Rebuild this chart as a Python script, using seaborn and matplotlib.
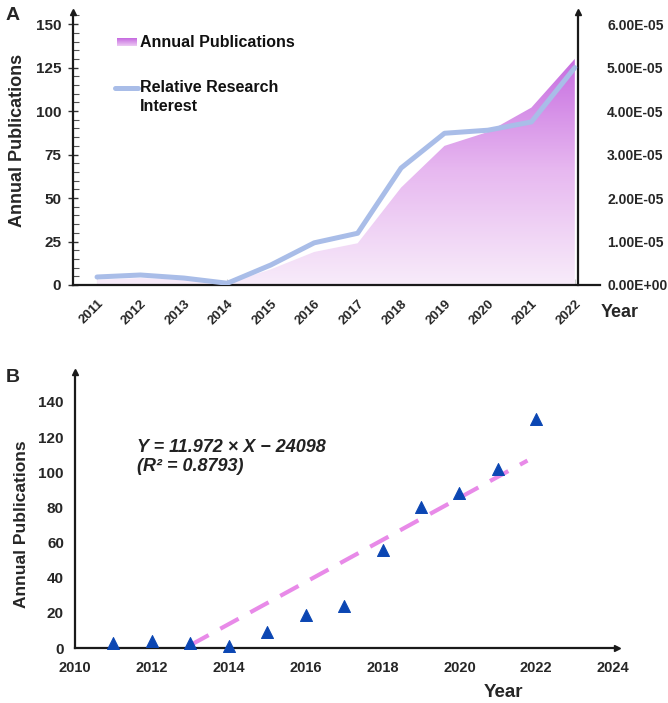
import numpy as np
import pandas as pd
import matplotlib
matplotlib.use("Agg")
import matplotlib.pyplot as plt
import seaborn as sns
from matplotlib.colors import LinearSegmentedColormap
from matplotlib.patches import PathPatch
from matplotlib.ticker import MultipleLocator, FuncFormatter
import matplotlib.transforms as mtrans

# datos
anios = [2011, 2012, 2013, 2014, 2015, 2016, 2017, 2018, 2019, 2020, 2021, 2022]
publicaciones = [3, 4, 3, 1, 9, 19, 24, 56, 80, 88, 102, 130]
interes = [0.184e-5, 0.23e-5, 0.16e-5, 0.04e-5, 0.46e-5, 0.97e-5, 1.19e-5,
           2.69e-5, 3.49e-5, 3.56e-5, 3.75e-5, 5.0e-5]
pendiente = 11.972
intercepto = -24098
recta_x = [2013, 2021.77]

sns.set_style("white")
plt.rcParams['font.family'] = ['Liberation Sans', 'DejaVu Sans']
plt.rcParams['font.weight'] = 'bold'

fig = plt.figure(figsize=(6.68, 7.03), dpi=100)

# ---------------- panel A ----------------
axA = fig.add_axes([0.1093, 0.5946, 0.7889, 0.3884])
xmin, xmax = 2010.447, 2022.58
ymaxA = 157

df = pd.DataFrame({'Year': anios, 'Pub': publicaciones, 'RRI': interes})

poly = axA.fill_between(df['Year'], df['Pub'], color='none', lw=0)
ruta = poly.get_paths()[0]
recorte = PathPatch(ruta, transform=axA.transData, facecolor='none', edgecolor='none')
axA.add_patch(recorte)
cmap = LinearSegmentedColormap.from_list('grad', ['#f8ecfa', '#e7b8f0', '#c66be0'])
grad = np.linspace(0, 1, 256).reshape(-1, 1)
im = axA.imshow(grad, extent=[2011, 2022, 0, 132], origin='lower', aspect='auto',
                cmap=cmap, zorder=1)
im.set_clip_path(recorte)

# leyenda a mano
axA.imshow(np.linspace(0, 1, 20).reshape(-1, 1), extent=[2011.46, 2011.92, 137.3, 141.5],
           origin='lower', aspect='auto', cmap=LinearSegmentedColormap.from_list('g2', ['#ecc8f3', '#c66be0']),
           zorder=3)
axA.plot([2011.42, 2011.95], [113.5, 113.5], color='#a9bde8', lw=3.6, solid_capstyle='round')
axA.text(2011.98, 139.5, 'Annual Publications', fontsize=11.5, fontweight='bold', va='center', color='#111111')
axA.text(2011.98, 113.5, 'Relative Research', fontsize=11.5, fontweight='bold', va='center', color='#111111')
axA.text(2011.98, 102.5, 'Interest', fontsize=11.5, fontweight='bold', va='center', color='#111111')

axA.set_xlim(xmin, xmax)
axA.set_ylim(0, ymaxA)
axA.set_xticks(anios)
axA.set_xticklabels([str(a) for a in anios], rotation=45, ha='right', rotation_mode='anchor',
                    fontsize=9.5, fontweight='bold')
axA.yaxis.set_major_locator(MultipleLocator(25))
axA.yaxis.set_minor_locator(MultipleLocator(5))
axA.set_yticks([0, 25, 50, 75, 100, 125, 150])
axA.set_yticklabels(['0', '25', '50', '75', '100', '125', '150'], fontsize=11, fontweight='bold')
axA.tick_params(axis='y', which='major', direction='inout', length=7, width=1, color='#333333', pad=5, left=True)
axA.tick_params(axis='y', which='minor', direction='in', length=4, width=0.8, color='#555555', left=True)
axA.tick_params(axis='x', which='major', direction='in', length=4, width=0.8, color='#cccccc', pad=9, bottom=True)
for s in ['top', 'right']:
    axA.spines[s].set_visible(False)
for s in ['left', 'bottom']:
    axA.spines[s].set_linewidth(1.6)
    axA.spines[s].set_color('#1a1a1a')
axA.plot([0], [1], marker='^', color='#1a1a1a', ms=5, transform=axA.transAxes, clip_on=False)
axA.set_ylabel('Annual Publications', fontsize=13, fontweight='bold')
axA.yaxis.set_label_coords(-0.09, 0.53)
fig.text(0.899, 0.555, 'Year', fontsize=13, fontweight='bold', va='center', ha='left')

axA2 = axA.twinx()
sns.lineplot(data=df, x='Year', y='RRI', ax=axA2, color='#a9bde8', lw=3.6, zorder=4)
axA2.set_ylim(0, ymaxA / 25 * 1e-5)
axA2.set_xlim(xmin, xmax)
axA2.set_yticks([i * 1e-5 for i in range(7)])
axA2.yaxis.set_major_formatter(FuncFormatter(lambda v, p: '%.2E' % v))
for t in axA2.get_yticklabels():
    t.set_fontsize(8)
    t.set_fontweight('bold')
axA2.tick_params(axis='y', length=0, pad=21)
axA2.set_ylabel('')
for s in ['top', 'left', 'bottom']:
    axA2.spines[s].set_visible(False)
axA2.spines['right'].set_position(('data', 2022.07))
axA2.spines['right'].set_linewidth(1.6)
axA2.spines['right'].set_color('#1a1a1a')
trf = mtrans.blended_transform_factory(axA2.transData, axA2.transAxes)
axA2.plot([2022.07], [1], marker='^', color='#1a1a1a', ms=5, transform=trf, clip_on=False)

fig.text(0.008, 0.99, 'A', fontsize=14, fontweight='bold', va='top')

# ---------------- panel B ----------------
axB = fig.add_axes([0.1123, 0.0782, 0.8114, 0.3926])
sns.scatterplot(x=anios, y=publicaciones, ax=axB, marker='^', s=75, color='#0b46b3',
                edgecolor='#0b46b3', zorder=4, clip_on=False)
recta_y = [pendiente * x + intercepto for x in recta_x]
sns.lineplot(x=recta_x, y=recta_y, ax=axB, color='#e88ae8', lw=3, zorder=3)
axB.lines[-1].set_dashes([5, 3.2])

axB.set_xlim(2010, 2024.1)
axB.set_ylim(0, 157)
axB.set_xticks(range(2010, 2025, 2))
axB.set_xticklabels([str(a) for a in range(2010, 2025, 2)], fontsize=10.5, fontweight='bold')
axB.set_yticks(range(0, 141, 20))
axB.set_yticklabels([str(v) for v in range(0, 141, 20)], fontsize=11, fontweight='bold')
axB.tick_params(axis='both', length=0)
axB.tick_params(axis='x', pad=9)
axB.tick_params(axis='y', pad=8)
for s in ['top', 'right']:
    axB.spines[s].set_visible(False)
for s in ['left', 'bottom']:
    axB.spines[s].set_linewidth(1.6)
    axB.spines[s].set_color('#1a1a1a')
axB.plot([0], [1], marker='^', color='#1a1a1a', ms=5, transform=axB.transAxes, clip_on=False)
axB.plot([1], [0], marker='>', color='#1a1a1a', ms=5, transform=axB.transAxes, clip_on=False)
axB.set_ylabel('Annual Publications', fontsize=12.5, fontweight='bold')
axB.yaxis.set_label_coords(-0.085, 0.45)
axB.set_xlabel('Year', fontsize=13.5, fontweight='bold')
axB.xaxis.set_label_coords(0.79, -0.13)
axB.text(2011.6, 114, 'Y = 11.972 × X − 24098', fontsize=13, fontweight='bold', style='italic',
         color='#222222', va='center')
axB.text(2011.6, 103, '(R² = 0.8793)', fontsize=13, fontweight='bold', style='italic',
         color='#222222', va='center')

fig.text(0.008, 0.475, 'B', fontsize=14, fontweight='bold', va='top')

fig.savefig('out.png', dpi=100)
